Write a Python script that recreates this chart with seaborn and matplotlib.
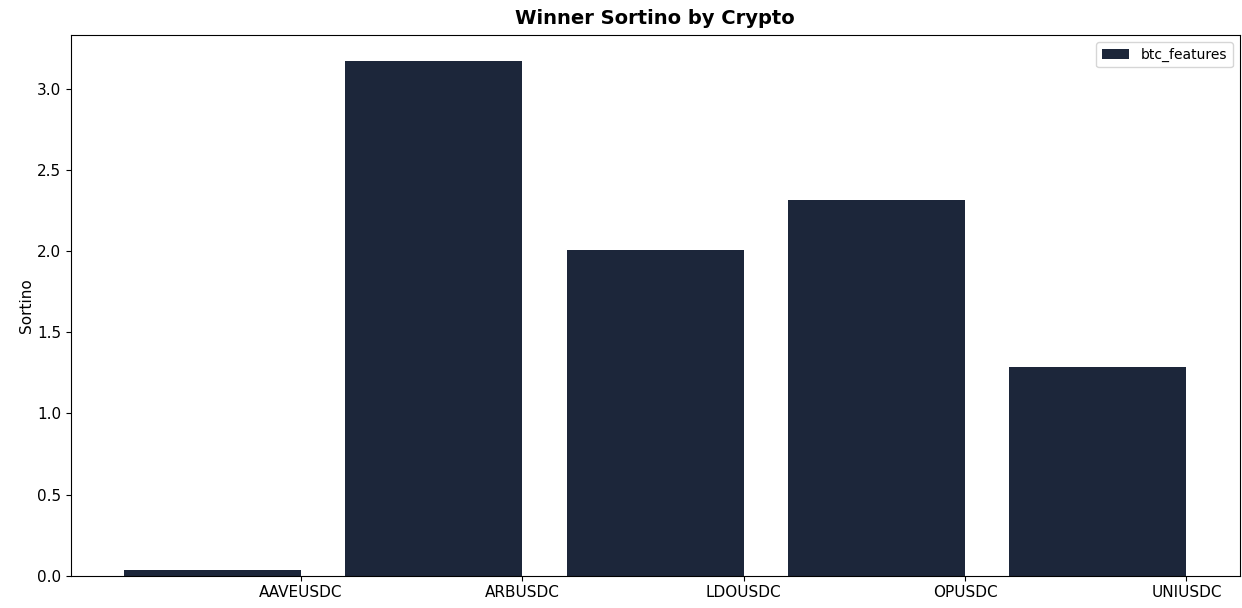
import matplotlib
matplotlib.use('Agg')
import matplotlib.pyplot as plt
import seaborn as sns
import pandas as pd

# sortino values
cryptos = ['AAVEUSDC', 'ARBUSDC', 'LDOUSDC', 'OPUSDC', 'UNIUSDC']
sortino = [0.035, 3.171, 2.007, 2.315, 1.288]
model = ['btc_features'] * len(cryptos)

df = pd.DataFrame({'crypto': cryptos, 'sortino': sortino, 'model': model})

fig, ax = plt.subplots(figsize=(12.42, 6.08), dpi=100)

sns.barplot(data=df, x='crypto', y='sortino', hue='model', palette=['#1c263a'],
            width=0.8, saturation=1, ax=ax)

# bars sit to the left of their tick like an edge-aligned bar chart
for p in ax.patches:
    p.set_x(p.get_x() - 0.4)
ax.set_xlim(-1.04, 4.24)
ax.set_ylim(0, max(sortino) * 1.05)

ax.set_title('Winner Sortino by Crypto', fontsize=14, fontweight='bold', pad=8)
ax.set_xlabel('')
ax.set_ylabel('Sortino', fontsize=11, labelpad=2)
ax.tick_params(labelsize=11)
ax.legend(loc='upper right', fontsize=10, title=None)

fig.subplots_adjust(left=0.057, right=0.998, top=0.942, bottom=0.053)
fig.savefig('out.png', dpi=100)
